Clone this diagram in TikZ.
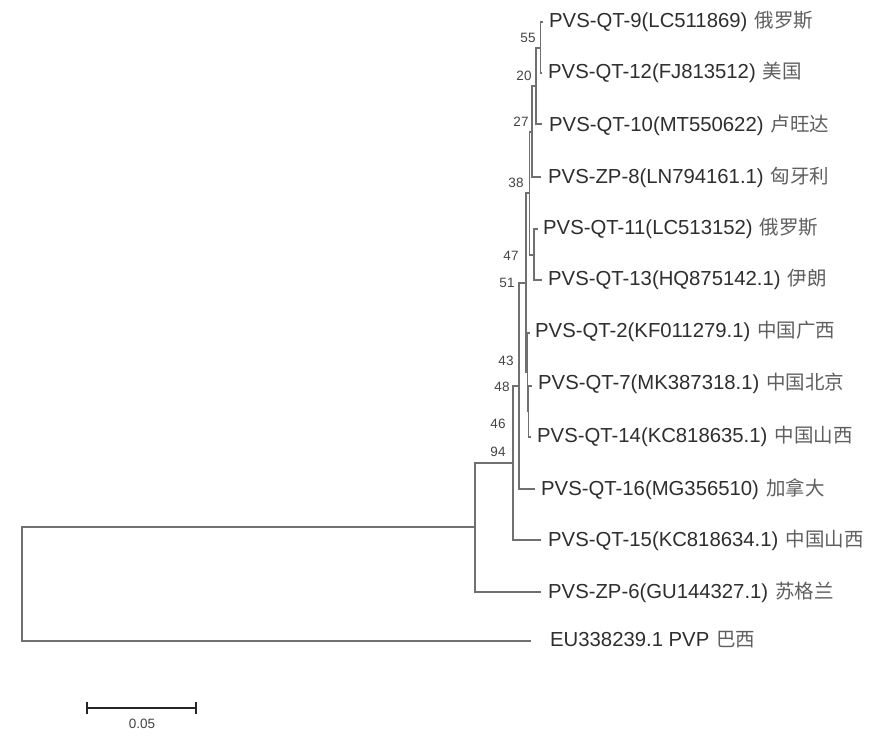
\documentclass[tikz,border=0pt]{standalone}
\usepackage{fontspec}
\setmainfont{Liberation Sans}
\newfontfamily\cjk{Noto Sans CJK SC}
\definecolor{treegray}{HTML}{707070}
\definecolor{leafcol}{HTML}{2E2E2E}
\definecolor{cjkcol}{HTML}{5F5F5F}
\definecolor{bootcol}{HTML}{444444}
\newcommand{\zh}[1]{\hspace{1.5pt}\textcolor{cjkcol}{\cjk\fontsize{19.5}{21}\selectfont #1}}
\begin{document}
\begin{tikzpicture}[x=1pt,y=-1pt,
  br/.style={draw=treegray, line width=1.2pt},
  leaf/.style={anchor=west, inner sep=0pt, text=leafcol, font=\fontsize{20.3}{22}\selectfont},
  boot/.style={inner sep=0pt, text=bootcol, font=\fontsize{13.5}{15}\selectfont},
  scalebar/.style={draw=black!85, line width=1.6pt}]
\fill[white] (0,0) rectangle (886,747);
\useasboundingbox (0,0) rectangle (886,747);

% internal nodes
\coordinate (A) at (540.5,48);
\coordinate (B) at (536,86);
\coordinate (C) at (532,132);
\coordinate (D) at (534,255);
\coordinate (E) at (529.5,193);
\coordinate (F) at (526,283);
\coordinate (I) at (527.3,372);
\coordinate (H) at (528.8,411);
\coordinate (J) at (519,386);
\coordinate (K) at (513,463);
\coordinate (L) at (475,527);
\coordinate (R) at (22,584);

% leaf tips
\coordinate (t9) at (543,22);
\coordinate (t12) at (542,73);
\coordinate (t10) at (542,124);
\coordinate (t8) at (541,177);
\coordinate (t11) at (538,229);
\coordinate (t13) at (542,280);
\coordinate (t2) at (529.5,333);
\coordinate (t7) at (531.5,386);
\coordinate (t14) at (531,437);
\coordinate (t16) at (535,489);
\coordinate (t15) at (541,540);
\coordinate (t6) at (541,592);
\coordinate (teu) at (531,641);

% branches
\draw[br] (A) |- (t9);  \draw[br] (A) |- (t12);
\draw[br] (B) |- (A);   \draw[br] (B) |- (t10);
\draw[br] (C) |- (B);   \draw[br] (C) |- (t8);
\draw[br] (D) |- (t11); \draw[br] (D) |- (t13);
\draw[br] (E) |- (C);   \draw[br] (E) |- (D);
\draw[br] (H) |- (t7);  \draw[br] (H) |- (t14);
\draw[br] (I) |- (t2);  \draw[br] (I) |- (H);
\draw[br] (F) |- (E);   \draw[br] (F) |- (I);
\draw[br] (J) |- (F);   \draw[br] (J) |- (t16);
\draw[br] (K) |- (J);   \draw[br] (K) |- (t15);
\draw[br] (L) |- (K);   \draw[br] (L) |- (t6);
\draw[br] (R) |- (L);   \draw[br] (R) |- (teu);

% leaf labels
\node[leaf] (n9)  at (549,21)  {PVS-QT-9(LC511869) \zh{俄罗斯}};
\node[leaf] (n12) at (548,72)  {PVS-QT-12(FJ813512) \zh{美国}};
\node[leaf] (n10) at (549,125) {PVS-QT-10(MT550622) \zh{卢旺达}};
\node[leaf] (n8)  at (548,177) {PVS-ZP-8(LN794161.1) \zh{匈牙利}};
\node[leaf] (n11) at (543,228) {PVS-QT-11(LC513152) \zh{俄罗斯}};
\node[leaf] (n13) at (548,279) {PVS-QT-13(HQ875142.1) \zh{伊朗}};
\node[leaf] (n2)  at (535,331) {PVS-QT-2(KF011279.1) \zh{中国广西}};
\node[leaf] (n7)  at (538,383) {PVS-QT-7(MK387318.1) \zh{中国北京}};
\node[leaf] (n14) at (537,436) {PVS-QT-14(KC818635.1) \zh{中国山西}};
\node[leaf] (n16) at (541,489) {PVS-QT-16(MG356510) \zh{加拿大}};
\node[leaf] (n15) at (548,540) {PVS-QT-15(KC818634.1) \zh{中国山西}};
\node[leaf] (n6)  at (548,592) {PVS-ZP-6(GU144327.1) \zh{苏格兰}};
\node[leaf] (neu) at (550,640) {EU338239.1 PVP \zh{巴西}};

% bootstrap values
\node[boot] (b55) at (528,38)  {55};
\node[boot] (b20) at (524,76)  {20};
\node[boot] (b27) at (521,122) {27};
\node[boot] (b38) at (516,183) {38};
\node[boot] (b47) at (511,256) {47};
\node[boot] (b51) at (507,283) {51};
\node[boot] (b43) at (506,361) {43};
\node[boot] (b48) at (502,387) {48};
\node[boot] (b46) at (498,424) {46};
\node[boot] (b94) at (498,452) {94};

% scale bar
\coordinate (s1) at (87,708);
\coordinate (s2) at (196,708);
\draw[scalebar] (s1) -- (s2);
\draw[scalebar] ([yshift=-6pt]s1) -- ([yshift=6pt]s1);
\draw[scalebar] ([yshift=-6pt]s2) -- ([yshift=6pt]s2);
\node[boot] (sl) at (142,724) {0.05};
\end{tikzpicture}
\end{document}
